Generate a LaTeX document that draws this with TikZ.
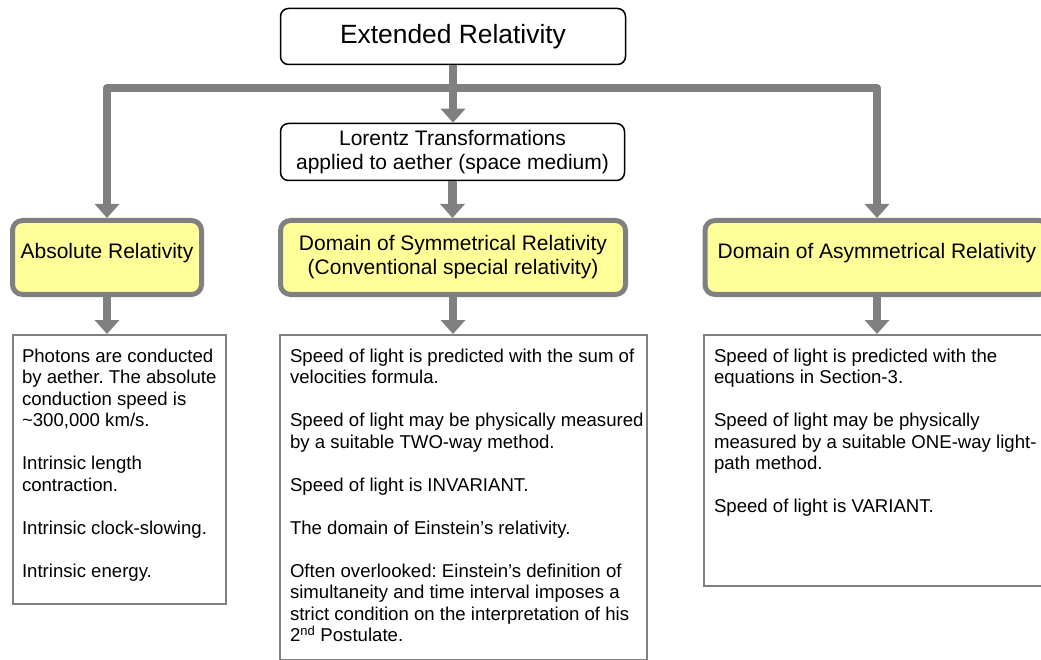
\documentclass[tikz,border=0pt]{standalone}
\usepackage{fontspec}
\setmainfont{Liberation Sans}
\usepackage{tikz}
\usetikzlibrary{arrows.meta, positioning, calc}
\definecolor{flowgray}{HTML}{808080}
\definecolor{paleyellow}{HTML}{FFFF99}
\frenchspacing
% width, height, left indent, lines
\newcommand{\notelines}[4]{\begin{minipage}[t][#2][t]{#1}\raggedright\leftskip=#3\relax\vspace*{14pt}#4\end{minipage}}

\begin{document}
\begin{tikzpicture}[x=1pt, y=-1pt,
    title/.style={draw, line width=1.5pt, rounded corners=8pt, inner sep=0pt, align=center},
    phase/.style={draw=flowgray, line width=5pt, fill=paleyellow, rounded corners=10pt, inner sep=0pt,
      align=center, font=\fontsize{21}{24}\selectfont},
    note/.style={draw=flowgray, line width=2pt, inner sep=0pt, anchor=north west,
      font=\fontsize{18.6}{21.5}\selectfont},
    flow/.style={draw=flowgray, line width=8.5pt, line join=round, -{Triangle[width=24pt,length=14pt]}}]
  \useasboundingbox (0,0) rectangle (1041,660);

  \node [title, minimum width=345, minimum height=56, font=\fontsize{26.4}{30}\selectfont] (ext) at (453,36.5) {Extended Relativity};
  \node [title, minimum width=344, minimum height=57, font=\fontsize{21}{24}\selectfont] (lor) at (452.5,152) {Lorentz Transformations\\applied to aether (space medium)};

  \node [phase, minimum width=189, minimum height=74, text depth=14pt] (abs) at (107,257.5) {Absolute Relativity};
  \node [phase, minimum width=345, minimum height=74] (sym) at (453,257.5) {Domain of Symmetrical Relativity\\(Conventional special relativity)};
  \node [phase, minimum width=344, minimum height=74, text depth=14pt] (asym) at (877,257.5) {Domain of Asymmetrical Relativity};

  \node [note] (absnote) at (12,334) {\notelines{213pt}{269pt}{9pt}{%
    Photons are conducted\\ by aether. The absolute\\ conduction speed is\\ \textasciitilde300,000 km/s.\\[21.5pt]
    Intrinsic length\\ contraction.\\[21.5pt]
    Intrinsic clock-slowing.\\[21.5pt]
    Intrinsic energy.}};
  \node [note] (symnote) at (279,334) {\notelines{367pt}{325pt}{10pt}{%
    Speed of light is predicted with the sum of\\ velocities formula.\\[21.5pt]
    Speed of light may be physically measured\\ by a suitable TWO-way method.\\[21.5pt]
    Speed of light is INVARIANT.\\[21.5pt]
    The domain of Einstein’s relativity.\\[21.5pt]
    Often overlooked: Einstein’s definition of\\ simultaneity and time interval imposes a\\ strict condition on the interpretation of his\\ 2\textsuperscript{nd} Postulate.}};
  \node [note] (asymnote) at (703,334) {\notelines{345pt}{251pt}{10pt}{%
    Speed of light is predicted with the\\ equations in Section-3.\\[21.5pt]
    Speed of light may be physically\\ measured by a suitable ONE-way light-\\ path method.\\[21.5pt]
    Speed of light is VARIANT.}};

  \coordinate (split) at ([yshift=-23pt]ext.south);
  \draw [flow] (split) -| (abs);
  \draw [flow] (split) -| (asym);
  \draw [flow] (ext.south) -- (ext.south |- lor.north);
  \draw [flow] (lor) -- (lor |- sym.north);
  \draw [flow] (abs) -- (abs |- absnote.north);
  \draw [flow] (sym) -- (sym |- symnote.north);
  \draw [flow] (asym) -- (asym |- asymnote.north);
\end{tikzpicture}
\end{document}
